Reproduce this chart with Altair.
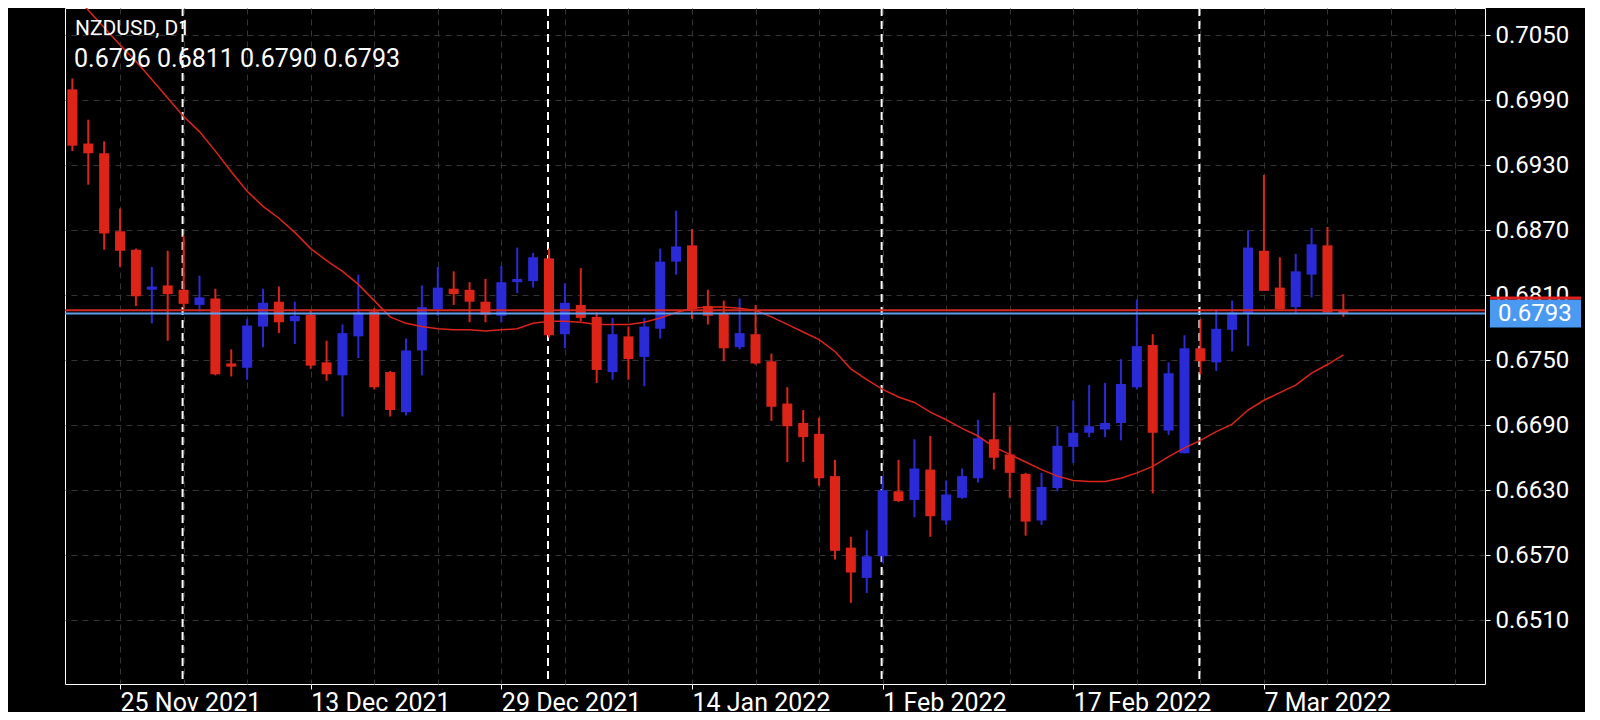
import altair as alt
import pandas as pd

symbol = "NZDUSD, D1"
dates = pd.bdate_range("2021-11-22", "2022-03-14")

open_ = [0.7000, 0.6950, 0.6941, 0.6869, 0.6852, 0.6815, 0.6819, 0.6815, 0.6801, 0.6807,
         0.6747, 0.6743, 0.6781, 0.6804, 0.6786, 0.6792, 0.6748, 0.6736, 0.6772, 0.6795,
         0.6739, 0.6702, 0.6759, 0.6797, 0.6816, 0.6815, 0.6804, 0.6791, 0.6822, 0.6823,
         0.6844, 0.6774, 0.6801, 0.6790, 0.6739, 0.6772, 0.6753, 0.6779, 0.6841, 0.6856,
         0.6800, 0.6793, 0.6762, 0.6774, 0.6749, 0.6710, 0.6692, 0.6682, 0.6643, 0.6577,
         0.6549, 0.6569, 0.6629, 0.6621, 0.6649, 0.6602, 0.6623, 0.6641, 0.6677, 0.6663,
         0.6645, 0.6602, 0.6632, 0.6670, 0.6683, 0.6686, 0.6692, 0.6725, 0.6764, 0.6685,
         0.6664, 0.6761, 0.6748, 0.6778, 0.6793, 0.6851, 0.6817, 0.6799, 0.6829, 0.6856,
         0.6796]
high = [0.7010, 0.6972, 0.6952, 0.6890, 0.6853, 0.6836, 0.6851, 0.6865, 0.6828, 0.6816,
        0.6760, 0.6788, 0.6816, 0.6818, 0.6804, 0.6796, 0.6768, 0.6783, 0.6829, 0.6798,
        0.6740, 0.6770, 0.6819, 0.6836, 0.6832, 0.6822, 0.6825, 0.6837, 0.6854, 0.6849,
        0.6853, 0.6821, 0.6835, 0.6794, 0.6789, 0.6781, 0.6789, 0.6853, 0.6888, 0.6871,
        0.6815, 0.6805, 0.6807, 0.6801, 0.6756, 0.6725, 0.6704, 0.6697, 0.6658, 0.6587,
        0.6593, 0.6643, 0.6658, 0.6677, 0.6680, 0.6639, 0.6650, 0.6695, 0.6720, 0.6689,
        0.6646, 0.6646, 0.6689, 0.6713, 0.6727, 0.6729, 0.6751, 0.6806, 0.6774, 0.6748,
        0.6773, 0.6788, 0.6797, 0.6805, 0.6870, 0.6921, 0.6845, 0.6848, 0.6872, 0.6873,
        0.6811]
low = [0.6943, 0.6912, 0.6852, 0.6836, 0.6800, 0.6784, 0.6768, 0.6798, 0.6795, 0.6736,
       0.6735, 0.6732, 0.6762, 0.6775, 0.6765, 0.6742, 0.6731, 0.6698, 0.6752, 0.6723,
       0.6698, 0.6699, 0.6736, 0.6791, 0.6801, 0.6785, 0.6785, 0.6785, 0.6812, 0.6817,
       0.6771, 0.6761, 0.6786, 0.6729, 0.6732, 0.6732, 0.6726, 0.6770, 0.6829, 0.6788,
       0.6783, 0.6749, 0.6760, 0.6746, 0.6694, 0.6656, 0.6656, 0.6634, 0.6566, 0.6526,
       0.6535, 0.6563, 0.6619, 0.6605, 0.6587, 0.6598, 0.6622, 0.6637, 0.6649, 0.6623,
       0.6588, 0.6598, 0.6629, 0.6655, 0.6679, 0.6679, 0.6676, 0.6723, 0.6627, 0.6681,
       0.6664, 0.6737, 0.6740, 0.6758, 0.6763, 0.6814, 0.6797, 0.6793, 0.6808, 0.6794,
       0.6790]
close = [0.6948, 0.6941, 0.6867, 0.6851, 0.6809, 0.6818, 0.6811, 0.6802, 0.6808, 0.6737,
         0.6744, 0.6782, 0.6803, 0.6785, 0.6791, 0.6745, 0.6737, 0.6775, 0.6794, 0.6725,
         0.6704, 0.6759, 0.6799, 0.6817, 0.6811, 0.6804, 0.6792, 0.6822, 0.6825, 0.6845,
         0.6773, 0.6803, 0.6789, 0.6741, 0.6774, 0.6751, 0.6781, 0.6841, 0.6855, 0.6797,
         0.6791, 0.6761, 0.6775, 0.6747, 0.6707, 0.6689, 0.6679, 0.6641, 0.6574, 0.6554,
         0.6569, 0.6630, 0.6620, 0.6650, 0.6606, 0.6626, 0.6643, 0.6678, 0.6660, 0.6646,
         0.6601, 0.6633, 0.6671, 0.6683, 0.6689, 0.6692, 0.6728, 0.6763, 0.6683, 0.6738,
         0.6761, 0.6749, 0.6779, 0.6794, 0.6854, 0.6814, 0.6797, 0.6832, 0.6857, 0.6794,
         0.6793]
ma = [0.7089, 0.7073, 0.7057, 0.7041, 0.7026, 0.7009, 0.6992, 0.6975, 0.6961, 0.6943,
      0.6924, 0.6906, 0.6892, 0.6881, 0.6868, 0.6853, 0.6842, 0.6832, 0.6820, 0.6805,
      0.6790, 0.6784, 0.6781, 0.6779, 0.6778, 0.6778, 0.6777, 0.6778, 0.6779, 0.6784,
      0.6786, 0.6786, 0.6785, 0.6783, 0.6783, 0.6783, 0.6785, 0.6789, 0.6794, 0.6798,
      0.6799, 0.6799, 0.6798, 0.6796, 0.6790, 0.6783, 0.6776, 0.6769, 0.6758, 0.6742,
      0.6732, 0.6723, 0.6716, 0.6711, 0.6702, 0.6695, 0.6687, 0.6680, 0.6670, 0.6663,
      0.6656, 0.6649, 0.6643, 0.6639, 0.6638, 0.6638, 0.6641, 0.6646, 0.6652, 0.6661,
      0.6669, 0.6676, 0.6684, 0.6691, 0.6704, 0.6713, 0.6720, 0.6727, 0.6738, 0.6746,
      0.6755]

tick_dates = ["2021-11-25", "2021-12-13", "2021-12-29", "2022-01-14",
              "2022-02-01", "2022-02-17", "2022-03-07"]
tick_labels = ["25 Nov 2021", "13 Dec 2021", "29 Dec 2021", "14 Jan 2022",
               "1 Feb 2022", "17 Feb 2022", "7 Mar 2022"]
separator_dates = ["2021-12-01", "2022-01-03", "2022-02-01", "2022-03-01"]
price_ticks = [0.6510, 0.6570, 0.6630, 0.6690, 0.6750, 0.6810, 0.6870, 0.6930, 0.6990, 0.7050]
bid = 0.6793
ask = 0.6796

RED = "#dc2419"
BLUE = "#2a2ad6"

date_index = {d.strftime("%Y-%m-%d"): i for i, d in enumerate(dates)}
tick_idx = [date_index[d] for d in tick_dates]
sep_idx = [date_index[d] for d in separator_dates]

df = pd.DataFrame({
    "i": list(range(len(dates))),
    "open": open_, "high": high, "low": low, "close": close, "ma": ma,
})
df["dir"] = ["up" if c >= o else "down" for o, c in zip(open_, close)]

xscale = alt.Scale(domain=[-0.15, 88.6], nice=False, zero=False)
yscale = alt.Scale(domain=[0.64511, 0.70751], nice=False, zero=False)

grid_vals = list(range(tick_idx[0] % 4, 89, 4))
label_expr = "".join(f"datum.value == {i} ? '{lab}' : " for i, lab in zip(tick_idx, tick_labels)) + "''"
tick_test = "indexof([" + ",".join(str(i) for i in tick_idx) + "], datum.value) >= 0"

xaxis = alt.Axis(
    values=grid_vals, grid=True, gridColor="#343434", gridDash=[6, 5], gridWidth=1,
    domain=False, ticks=True, tickSize=5, tickColor="white", tickWidth=1,
    tickOpacity={"condition": {"test": tick_test, "value": 1}, "value": 0},
    labelExpr=label_expr, labelColor="white", labelFont="Roboto", labelFontSize=25,
    labelAlign="left", labelBaseline="top", labelPadding=1, labelOffset=0,
    labelOverlap=False, labelFlush=False, labelBound=False, title=None,
)
yaxis = alt.Axis(
    orient="right", values=price_ticks, format=".4f", grid=True, gridColor="#343434",
    gridDash=[6, 5], gridWidth=1, domain=False, tickColor="white", tickSize=5,
    labelPadding=5, labelFont="Roboto", labelFontSize=24, labelColor="white",
    labelOverlap=False, labelFlush=False, labelBound=False, title=None,
)

color = alt.Color("dir:N", scale=alt.Scale(domain=["up", "down"], range=[BLUE, RED]), legend=None)

base = alt.Chart(df)

seps = alt.Chart(pd.DataFrame({"i": sep_idx})).mark_rule(
    color="white", strokeDash=[8, 5], strokeWidth=2, xOffset=-1
).encode(x=alt.X("i:Q", scale=xscale, axis=xaxis))

wicks = base.mark_rule(strokeWidth=2, clip=True).encode(
    x=alt.X("i:Q", scale=xscale, axis=xaxis),
    y=alt.Y("low:Q", scale=yscale, axis=yaxis),
    y2="high:Q",
    color=color,
)
bodies = base.mark_bar(width=10, clip=True).encode(
    x=alt.X("i:Q", scale=xscale, axis=xaxis),
    y=alt.Y("open:Q", scale=yscale, axis=yaxis),
    y2="close:Q",
    color=color,
)
ma_line = base.mark_line(color=RED, strokeWidth=1.5, clip=True).encode(
    x=alt.X("i:Q", scale=xscale, axis=xaxis),
    y=alt.Y("ma:Q", scale=yscale, axis=yaxis),
)

pdf = pd.DataFrame({"bid": [bid], "ask": [ask]})
ask_line = alt.Chart(pdf).mark_rule(color="#d42a22", strokeWidth=2).encode(
    y=alt.Y("ask:Q", scale=yscale, axis=yaxis))
bid_line = alt.Chart(pdf).mark_rule(color="#5f9fee", strokeWidth=2).encode(
    y=alt.Y("bid:Q", scale=yscale, axis=yaxis))
box = alt.Chart(pdf).mark_rule(color="#4a9af2", strokeWidth=28, strokeCap="butt").encode(
    x=alt.value(1425), x2=alt.value(1516), y=alt.Y("bid:Q", scale=yscale, axis=yaxis))
strip = alt.Chart(pdf).mark_rule(color="#e0201c", strokeWidth=3, strokeCap="butt", yOffset=-15.5).encode(
    x=alt.value(1425), x2=alt.value(1516), y=alt.Y("bid:Q", scale=yscale, axis=yaxis))
box_text = alt.Chart(pdf).mark_text(
    font="Roboto", fontSize=24, color="white", align="left", baseline="middle"
).encode(x=alt.value(1433), y=alt.Y("bid:Q", scale=yscale, axis=yaxis),
         text=alt.Text("bid:Q", format=".4f"))

ohlc_text = f"{open_[-1]:.4f} {high[-1]:.4f} {low[-1]:.4f} {close[-1]:.4f}"
hdf = pd.DataFrame({"t": [symbol, ohlc_text], "row": [0, 1]})
header1 = alt.Chart(hdf).transform_filter("datum.row == 0").mark_text(
    font="Roboto", fontSize=21, color="white", align="left", baseline="alphabetic"
).encode(x=alt.value(10), y=alt.value(27), text="t:N")
header2 = alt.Chart(hdf).transform_filter("datum.row == 1").mark_text(
    font="Roboto", fontSize=25, color="white", align="left", baseline="alphabetic"
).encode(x=alt.value(9), y=alt.value(59), text="t:N")

chart = alt.layer(
    seps, wicks, bodies, ma_line, ask_line, bid_line, box, strip, box_text, header1, header2
).properties(
    width=1420, height=676,
    autosize=alt.AutoSizeParams(type="none"),
    padding={"left": 57, "top": 0, "right": 100, "bottom": 28},
    background="black",
).configure_view(fill="black", stroke="white", strokeWidth=1)

chart.save("out.html", embed_options={"renderer": "svg", "actions": False})
